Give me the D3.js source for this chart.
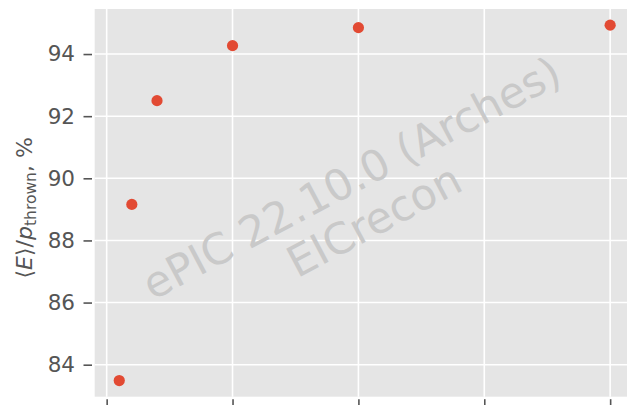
<!DOCTYPE html>
<html>
<head>
<meta charset="utf-8">
<script src="https://cdn.jsdelivr.net/npm/d3@7"></script>
<style>
  html, body { margin: 0; padding: 0; background: #fff; }
  svg { display: block; font-family: "DejaVu Sans", sans-serif; }
</style>
</head>
<body>
<svg id="chart" width="627" height="405"></svg>
<script>
// Data
const energies = [1, 2, 4, 10, 20, 40];
const ratios = [83.49, 89.16, 92.50, 94.27, 94.85, 94.93];
const xTicks = [0, 10, 20, 30, 40];
const yTicks = [84, 86, 88, 90, 92, 94];
const watermarkLines = ["ePIC 22.10.0 (Arches)", "EICrecon"];

(function () {
const svg = d3.select("#chart");
const pL = 94.7, pT = 9, pB = 396.7, pR = 634.7;

const x = d3.scaleLinear().domain([-0.95, 41.95]).range([pL, pR]);
const y = d3.scaleLinear().domain([82.97, 95.45]).range([pB, pT]);

const g = svg.append("g");

// axes face
g.append("rect").attr("x", pL).attr("y", pT)
  .attr("width", pR - pL).attr("height", pB - pT)
  .attr("fill", "#e5e5e5");

// grid
g.append("g").selectAll("line").data(xTicks).join("line")
  .attr("x1", d => x(d)).attr("x2", d => x(d))
  .attr("y1", pT).attr("y2", pB)
  .attr("stroke", "#fff").attr("stroke-width", 1.6);
g.append("g").selectAll("line").data(yTicks).join("line")
  .attr("x1", pL).attr("x2", pR)
  .attr("y1", d => y(d)).attr("y2", d => y(d))
  .attr("stroke", "#fff").attr("stroke-width", 1.6);

// watermark
const cx = (pL + pR) / 2, cy = (pT + pB) / 2;
const wm = g.append("text")
  .attr("transform", `translate(${cx},${cy}) rotate(-28)`)
  .attr("text-anchor", "middle")
  .attr("font-size", 43)
  .attr("fill", "#c9c9c9");
watermarkLines.forEach((t, i) => {
  wm.append("tspan").attr("x", 0)
    .attr("y", (i - (watermarkLines.length - 1) / 2) * 48 + 11)
    .text(t);
});

// y axis
const yAxis = d3.axisLeft(y).tickValues(yTicks).tickSize(8.5).tickPadding(8.5);
const ya = g.append("g").attr("transform", `translate(92,0)`).call(yAxis);
ya.select(".domain").remove();
ya.selectAll(".tick line").attr("stroke", "#555").attr("stroke-width", 1.6);
ya.selectAll(".tick text").attr("fill", "#555").attr("font-size", 21.5)
  .attr("font-family", "DejaVu Sans");

// x axis (labels fall outside the frame)
const xAxis = d3.axisBottom(x).tickValues(xTicks).tickSize(8.5).tickFormat("");
const xa = g.append("g").attr("transform", `translate(0,${pB + 2.5})`).call(xAxis);
xa.select(".domain").remove();
xa.selectAll(".tick line").attr("stroke", "#555").attr("stroke-width", 1.6);

// points
g.append("g").selectAll("circle").data(energies).join("circle")
  .attr("cx", (d) => x(d)).attr("cy", (d, i) => y(ratios[i]))
  .attr("r", 5.6).attr("fill", "#E24A33");

// y label
const yl = svg.append("text")
  .attr("transform", `translate(31.5,${cy + 5}) rotate(-90)`)
  .attr("text-anchor", "middle")
  .attr("font-size", 22).attr("fill", "#555");
yl.append("tspan").text("⟨");
yl.append("tspan").attr("font-style", "italic").text("E");
yl.append("tspan").text("⟩/");
yl.append("tspan").attr("font-style", "italic").text("p");
yl.append("tspan").attr("font-size", 15.5).attr("dy", 4).text("thrown");
yl.append("tspan").attr("dy", -4).text(", %");
})();
</script>
</body>
</html>
